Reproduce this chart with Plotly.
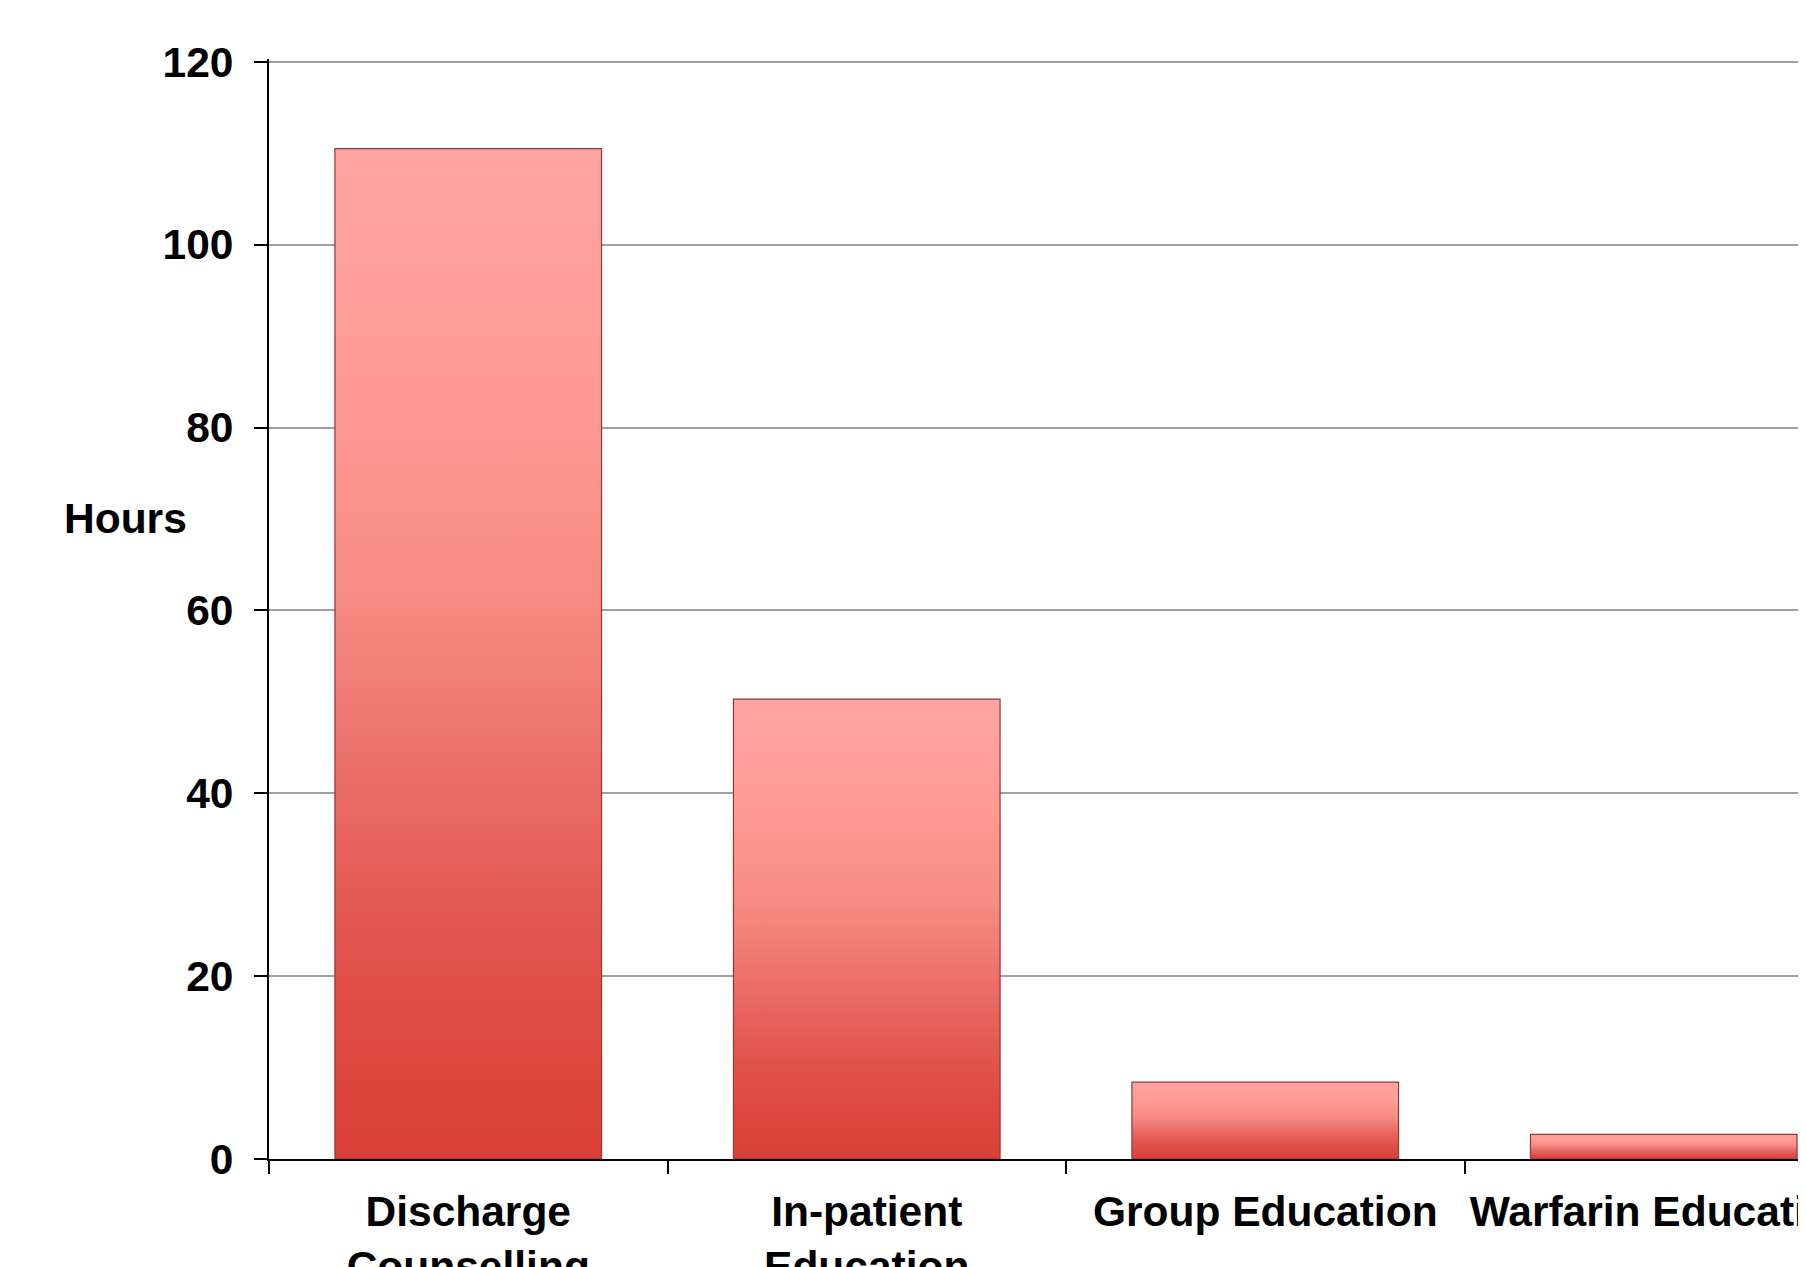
import plotly.graph_objects as go

# ---- data ----
categories = ["Discharge<br>Counselling", "In-patient<br>Education", "Group Education", "Warfarin Education"]
hours = [110.5, 50.3, 8.4, 2.7]
y_ticks = [0, 20, 40, 60, 80, 100, 120]

BAR_W = 0.669
FONT = dict(family="Liberation Sans, Arial, sans-serif", size=42.5, color="black", weight="bold")
GRAD = [[0.0, "#DA3F37"], [0.2, "#E0524B"], [0.38, "#EA6E68"], [0.55, "#F78A84"],
        [0.75, "#FF9A94"], [1.0, "#FFA4A2"]]

# page body has an 8px default margin; compensate so the plot lands where the reference has it
OFF = 8
W, H = 1806, 1267 - OFF
PX_PER_UNIT = 1098 / 120
Y_MAX = 120.3
plot_left = 269 - OFF
plot_bottom = 1159.3 - OFF
plot_h = Y_MAX * PX_PER_UNIT
plot_top = plot_bottom - plot_h
plot_w = W - plot_left
CAT_PX = 398.5

idx = list(range(len(categories)))

fig = go.Figure()
fig.add_trace(go.Bar(x=idx, y=hours, width=BAR_W, marker=dict(color="#EE7A74", line=dict(width=0)),
                     showlegend=False, hoverinfo="skip"))

for i, v in zip(idx, hours):
    x0, x1 = i - BAR_W / 2, i + BAR_W / 2
    fig.add_trace(go.Scatter(
        x=[x0, x1, x1, x0, x0], y=[0, 0, v, v, 0], mode="lines", fill="toself",
        fillgradient=dict(type="vertical", colorscale=GRAD),
        line=dict(color="#8E3A35", width=1.2), showlegend=False, hoverinfo="skip"))

fig.update_layout(
    width=W, height=H,
    margin=dict(l=plot_left, r=0, t=plot_top, b=H - plot_bottom, pad=0, autoexpand=False),
    paper_bgcolor="white", plot_bgcolor="white",
    font=FONT, showlegend=False,
    bargap=0.33,
)
fig.update_xaxes(
    range=[-0.5, -0.5 + plot_w / CAT_PX], tickmode="array", tickvals=idx, ticktext=categories,
    ticks="", showgrid=False, zeroline=False, showline=True, linecolor="black", linewidth=2,
    tickfont=FONT, automargin=False, ticklabelstandoff=14, ticklabeloverflow="allow",
    minor=dict(tickmode="array", tickvals=[i - 0.5 for i in idx], ticks="outside", ticklen=13,
               tickwidth=2, tickcolor="black", showgrid=False),
)
fig.update_yaxes(
    range=[0, Y_MAX], tickmode="array", tickvals=y_ticks, ticks="outside", ticklen=13, tickwidth=2,
    tickcolor="black", showline=True, linecolor="black", linewidth=2, showgrid=True,
    gridcolor="#A0A0A0", gridwidth=1.5, zeroline=False, tickfont=FONT, automargin=False,
    ticklabelstandoff=12, ticklabeloverflow="allow",
)
fig.add_annotation(text="Hours", xref="paper", yref="paper", x=(125 - 269) / plot_w,
                   y=(1159.3 - 518) / plot_h, xanchor="center", yanchor="middle", showarrow=False, font=FONT)

fig.write_html("out.html")
